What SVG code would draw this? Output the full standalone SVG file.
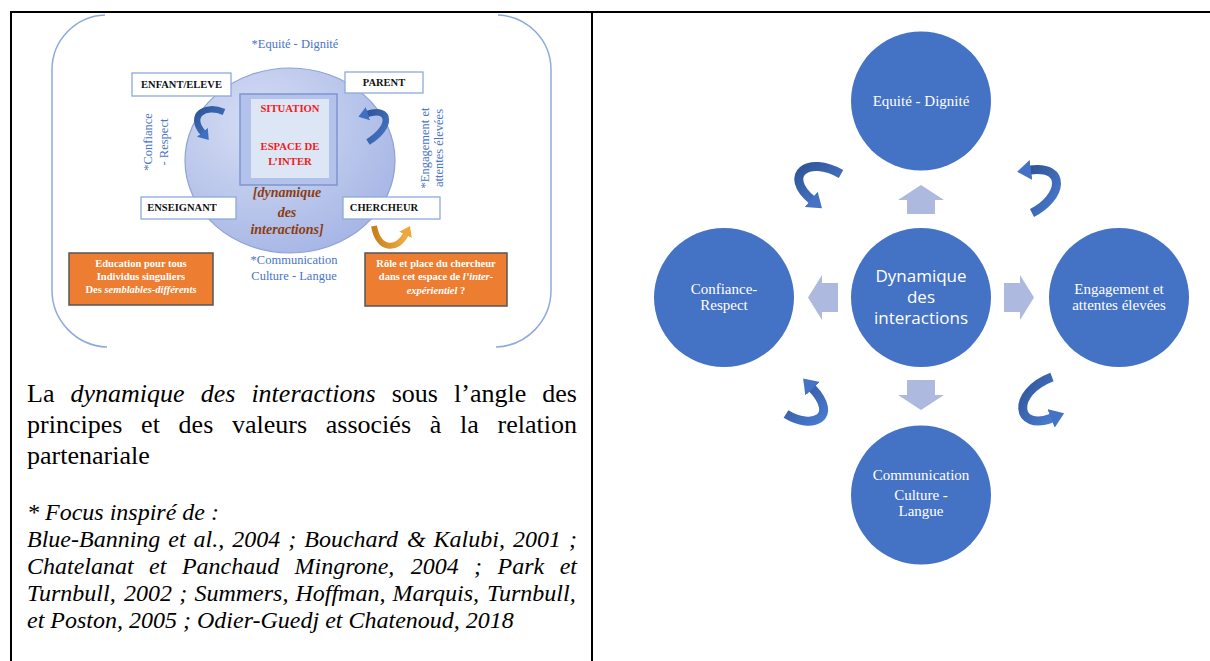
<svg xmlns="http://www.w3.org/2000/svg" width="1210" height="661" viewBox="0 0 1210 661">
<defs>
<style>
.box{fill:#fff;stroke:#8eaadb;stroke-width:1.3}
.lbl{font-family:"Liberation Serif","Times New Roman",serif;font-weight:bold;font-size:10.5px;fill:#111;text-anchor:middle}
.org{fill:#ed7d31;stroke:#555;stroke-width:1.5}
.otx{font-family:"Liberation Serif","Times New Roman",serif;font-weight:bold;font-size:10.5px;fill:#fff;text-anchor:middle}
.blu{font-family:"Liberation Serif","Times New Roman",serif;font-size:12.5px;fill:#4a74c9;text-anchor:middle}
.red{font-family:"Liberation Serif","Times New Roman",serif;font-weight:bold;font-size:10.7px;fill:#ee1c24;text-anchor:middle}
.brn{font-family:"Liberation Serif","Times New Roman",serif;font-weight:bold;font-style:italic;font-size:14px;fill:#8a3d12;text-anchor:middle}
.cap{font-family:"Liberation Serif","Times New Roman",serif;font-size:26px;fill:#000}
.ref{font-family:"Liberation Serif","Times New Roman",serif;font-size:24px;font-style:italic;fill:#000}
.circ{fill:#4472c4}
.ct{font-family:"Liberation Serif","Times New Roman",serif;font-size:15px;fill:#fff;text-anchor:middle}
.cs{font-family:"Open Sans","Noto Sans",sans-serif;font-size:17px;fill:#fff;text-anchor:middle}
.blk{fill:#adb9de}
.rib{fill:none;stroke:url(#gRib);stroke-width:9}
.ribs{fill:none;stroke:url(#gRib2);stroke-width:6.5}
.frame{fill:none;stroke:#8eaadb;stroke-width:1.5}
.rule{stroke:#000;stroke-width:2}
</style>
<linearGradient id="gRib" x1="0" y1="0" x2="1" y2="1">
<stop offset="0" stop-color="#2f5597"/><stop offset="1" stop-color="#4a7bd0"/>
</linearGradient>
<linearGradient id="gRib2" x1="0" y1="0" x2="1" y2="1">
<stop offset="0" stop-color="#2f5597"/><stop offset="1" stop-color="#4677c8"/>
</linearGradient>
<linearGradient id="gOr" x1="0" y1="0" x2="1" y2="0">
<stop offset="0" stop-color="#c8801e"/><stop offset="1" stop-color="#f0ad45"/>
</linearGradient>
<radialGradient id="gEll" cx="0.35" cy="0.3" r="0.8">
<stop offset="0" stop-color="#d6def4"/><stop offset="1" stop-color="#a3b3e4"/>
</radialGradient>
<marker id="hB" viewBox="0 0 14 20" refX="1" refY="10" markerWidth="14" markerHeight="20" orient="auto" markerUnits="userSpaceOnUse">
<path d="M0,0 L14,10 L0,20 z" fill="#4472c4"/>
</marker>
<marker id="hS" viewBox="0 0 10 14" refX="1" refY="7" markerWidth="10" markerHeight="14" orient="auto" markerUnits="userSpaceOnUse">
<path d="M0,0 L10,7 L0,14 z" fill="#3f6fc2"/>
</marker>
<marker id="hO" viewBox="0 0 10 14" refX="1" refY="7" markerWidth="10" markerHeight="14" orient="auto" markerUnits="userSpaceOnUse">
<path d="M0,0 L10,7 L0,14 z" fill="#eea63f"/>
</marker>
</defs>
<rect width="1210" height="661" fill="#fff"/>

<!-- table rules -->
<g id="table">
<line class="rule" x1="10" y1="12" x2="1210" y2="12"/>
<line class="rule" x1="11" y1="12" x2="11" y2="661"/>
<line class="rule" x1="592" y1="12" x2="592" y2="661"/>
</g>

<!-- left figure -->
<g id="frame">
<path class="frame" d="M105,15 A55,55 0 0 0 52,70 L52,290 A57,57 0 0 0 107,347"/>
<path class="frame" d="M498,15 A55,55 0 0 1 551,70 L551,290 A57,57 0 0 1 496,347"/>
</g>

<g id="espace">
<ellipse cx="290" cy="160.5" rx="105" ry="92.5" fill="url(#gEll)" stroke="#8ea2d8" stroke-width="1.2"/>
<rect x="240" y="94" width="97" height="91" fill="#b3c2ea" stroke="#7f95cf" stroke-width="1.5"/>
<rect x="251" y="99" width="78" height="79" fill="#dce6f4"/>
<text class="red" x="290" y="112">SITUATION</text>
<text class="red" x="290" y="150">ESPACE DE</text>
<text class="red" x="290" y="165">L’INTER</text>
<text class="brn" x="287" y="197">[dynamique</text>
<text class="brn" x="287" y="217">des</text>
<text class="brn" x="287" y="234">interactions]</text>
</g>

<g id="lbl-equite"><text class="blu" x="295" y="48">*Equité - Dignité</text></g>
<g id="lbl-confiance">
<text class="blu" transform="translate(152,142) rotate(-90)">*Confiance</text>
<text class="blu" transform="translate(168,142) rotate(-90)">- Respect</text>
</g>
<g id="lbl-engagement">
<text class="blu" transform="translate(429,148) rotate(-90)">*Engagement et</text>
<text class="blu" transform="translate(443,148) rotate(-90)">attentes élevées</text>
</g>
<g id="lbl-communication">
<text class="blu" x="294" y="264">*Communication</text>
<text class="blu" x="294" y="280">Culture - Langue</text>
</g>

<g id="enfant"><rect class="box" x="132" y="73" width="99" height="23"/><text class="lbl" x="181.5" y="88">ENFANT/ELEVE</text></g>
<g id="parent"><rect class="box" x="345" y="72" width="78" height="21"/><text class="lbl" x="384" y="86">PARENT</text></g>
<g id="enseignant"><rect class="box" x="141" y="197" width="95" height="22"/><text class="lbl" x="182" y="211">ENSEIGNANT</text></g>
<g id="chercheur"><rect class="box" x="343" y="197" width="97" height="22"/><text class="lbl" x="384" y="211">CHERCHEUR</text></g>

<g id="education">
<rect class="org" x="69" y="253" width="144" height="52"/>
<text class="otx" x="141" y="267">Education pour tous</text>
<text class="otx" x="141" y="280">Individus singuliers</text>
<text class="otx" x="141" y="293">Des <tspan font-style="italic">semblables-différents</tspan></text>
</g>
<g id="role">
<rect class="org" x="365" y="253" width="142" height="53"/>
<text class="otx" x="436" y="267">Rôle et place du chercheur</text>
<text class="otx" x="436" y="280">dans cet espace de <tspan font-style="italic">l’inter-</tspan></text>
<text class="otx" x="436" y="294"><tspan font-style="italic">expérientiel</tspan> ?</text>
</g>

<g id="connectors-left">
<path class="ribs" d="M224,112 C205,104 188,115 203,133" marker-end="url(#hS)"/>
<path class="ribs" d="M368,142 C392,128 392,106 367,114" marker-end="url(#hS)"/>
<path fill="none" stroke="url(#gOr)" stroke-width="6" d="M374,226 C379,252 398,250 406,234" marker-end="url(#hO)"/>
</g>

<!-- caption -->
<g id="caption">
<text class="cap" y="402"><tspan x="27">La</tspan><tspan x="70.5" font-style="italic">dynamique</tspan><tspan x="200.7" font-style="italic">des</tspan><tspan x="251.4" font-style="italic">interactions</tspan><tspan x="391.7">sous</tspan><tspan x="454">l’angle</tspan><tspan x="542.3">des</tspan></text>
<text class="cap" y="433"><tspan x="27">principes</tspan><tspan x="141.1">et</tspan><tspan x="178.6">des</tspan><tspan x="232">valeurs</tspan><tspan x="325.8">associés</tspan><tspan x="429.7">à</tspan><tspan x="460">la</tspan><tspan x="497.5">relation</tspan></text>
<text class="cap" x="27" y="464">partenariale</text>
<text class="ref" x="27" y="520">* Focus inspiré de :</text>
<text class="ref" y="547"><tspan x="27">Blue-Banning</tspan><tspan x="168.3">et</tspan><tspan x="193.6">al.,</tspan><tspan x="232.3">2004</tspan><tspan x="288.3">;</tspan><tspan x="304.3">Bouchard</tspan><tspan x="407">&amp;</tspan><tspan x="433.6">Kalubi,</tspan><tspan x="513">2001</tspan><tspan x="569">;</tspan></text>
<text class="ref" y="574"><tspan x="27">Chatelanat</tspan><tspan x="149.1">et</tspan><tspan x="181.9">Panchaud</tspan><tspan x="294.6">Mingrone,</tspan><tspan x="410.7">2004</tspan><tspan x="474.1">;</tspan><tspan x="497.6">Park</tspan><tspan x="559.7">et</tspan></text>
<text class="ref" y="601"><tspan x="27">Turnbull,</tspan><tspan x="124.1">2002</tspan><tspan x="179.2">;</tspan><tspan x="194.4">Summers,</tspan><tspan x="295.4">Hoffman,</tspan><tspan x="392.6">Marquis,</tspan><tspan x="487">Turnbull,</tspan></text>
<text class="ref" x="27" y="628">et Poston, 2005 ; Odier-Guedj et Chatenoud, 2018</text>
</g>

<!-- right figure -->
<g id="n-top"><ellipse class="circ" cx="921" cy="101" rx="70" ry="69.5"/><text class="ct" x="921" y="106">Equité - Dignité</text></g>
<g id="n-center"><ellipse class="circ" cx="921" cy="297.5" rx="70" ry="69.5"/>
<text class="cs" x="921" y="282">Dynamique</text><text class="cs" x="921" y="303">des</text><text class="cs" x="921" y="324">interactions</text></g>
<g id="n-left"><ellipse class="circ" cx="724" cy="297.5" rx="70" ry="69.5"/>
<text class="ct" x="724" y="294">Confiance-</text><text class="ct" x="724" y="310">Respect</text></g>
<g id="n-right"><ellipse class="circ" cx="1119" cy="297.5" rx="70" ry="69.5"/>
<text class="ct" x="1119" y="294">Engagement et</text><text class="ct" x="1119" y="310">attentes élevées</text></g>
<g id="n-bottom"><ellipse class="circ" cx="921" cy="495" rx="70" ry="69.5"/>
<text class="ct" x="921" y="480">Communication</text><text class="ct" x="921" y="500">Culture -</text><text class="ct" x="921" y="516">Langue</text></g>

<g id="connectors-right">
<polygon class="blk" points="921,185 944,200 935,200 935,214 907,214 907,200 898,200"/>
<polygon class="blk" points="907,380 935,380 935,395 944,395 921,410 898,395 907,395"/>
<polygon class="blk" points="808,297.5 822,275 822,283 838,283 838,312 822,312 822,320"/>
<polygon class="blk" points="1034,297.5 1020,275 1020,283 1004,283 1004,312 1020,312 1020,320"/>
<path class="rib" d="M841,174 C808,155 782,175 812,200" marker-end="url(#hB)"/>
<path class="rib" d="M1032,213 C1062,198 1068,165 1030,170" marker-end="url(#hB)"/>
<path class="rib" d="M786,414 C812,430 840,418 812,388" marker-end="url(#hB)"/>
<path class="rib" d="M1052,377 C1010,393 1016,432 1052,418" marker-end="url(#hB)"/>
</g>
</svg>
